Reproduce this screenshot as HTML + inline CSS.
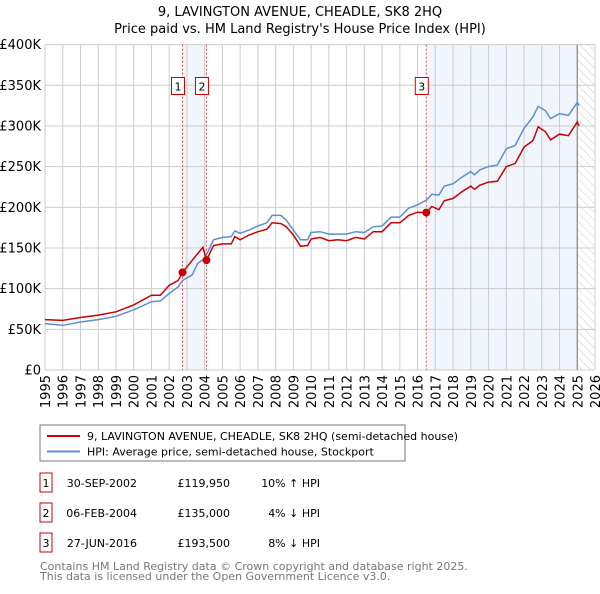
<!DOCTYPE html>
<html><head><meta charset="utf-8"><style>
body{margin:0;background:#fff;font-family:"DejaVu Sans","Liberation Sans",sans-serif;}
svg text{font-family:"DejaVu Sans","Liberation Sans",sans-serif;}
</style></head><body>
<svg id="chart" width="600" height="590" xmlns="http://www.w3.org/2000/svg">
<defs>
<pattern id="hatch" width="6" height="6" patternUnits="userSpaceOnUse" patternTransform="rotate(-45)">
<line x1="0" y1="0" x2="0" y2="6" stroke="#ccc" stroke-width="1"/></pattern>
<clipPath id="plotclip"><rect x="45" y="44" width="550" height="326"/></clipPath>
</defs>
<text x="300" y="16" text-anchor="middle" font-size="13">9, LAVINGTON AVENUE, CHEADLE, SK8 2HQ</text>
<text x="300" y="33" text-anchor="middle" font-size="13">Price paid vs. HM Land Registry's House Price Index (HPI)</text>
<g id="plot"></g>
<rect x="40" y="425" width="365" height="36" fill="#fff" stroke="#777"/>
<line x1="47" y1="436" x2="80" y2="436" stroke="#cc0000" stroke-width="2"/>
<text x="87" y="440" font-size="11">9, LAVINGTON AVENUE, CHEADLE, SK8 2HQ (semi-detached house)</text>
<line x1="47" y1="451.5" x2="80" y2="451.5" stroke="#5b8fd4" stroke-width="2"/>
<text x="87" y="455.5" font-size="11">HPI: Average price, semi-detached house, Stockport</text>
<g id="table" font-size="11"></g>
<text x="40" y="570" font-size="11" fill="#777">Contains HM Land Registry data © Crown copyright and database right 2025.</text>
<text x="40" y="580" font-size="11" fill="#777">This data is licensed under the Open Government Licence v3.0.</text>
</svg>
<script>
const hpiYears=[1995,1996,1997,1998,1999,2000,2001,2001.5,2002,2002.5,2002.75,2003.3,2003.6,2004,2004.5,2005,2005.5,2005.7,2006,2006.5,2007,2007.5,2007.8,2008.3,2008.6,2009,2009.4,2009.8,2010,2010.5,2011,2011.5,2012,2012.5,2013,2013.5,2014,2014.5,2015,2015.5,2016,2016.5,2016.8,2017.2,2017.5,2018,2018.5,2019,2019.2,2019.5,2020,2020.5,2021,2021.5,2022,2022.5,2022.8,2023.2,2023.5,2024,2024.5,2025,2025.1];
const hpiValues=[57,55,59,62,66,74,84,85,94,102,110,117,131,137,160,163,164,171,168,172,177,181,190,190,184,172,160,160,169,170,167,167,167,170,169,176,177,188,188,199,203,209,216,215,226,229,237,244,240,246,250,252,272,276,297,311,324,319,309,315,313,329,325];
const priceYears=[1995,1996,1997,1998,1999,2000,2001,2001.5,2002,2002.5,2002.75,2003.3,2003.9,2004.1,2004.5,2005,2005.5,2005.7,2006,2006.5,2007,2007.5,2007.8,2008.3,2008.6,2009,2009.4,2009.8,2010,2010.5,2011,2011.5,2012,2012.5,2013,2013.5,2014,2014.5,2015,2015.5,2016,2016.49,2016.8,2017.2,2017.5,2018,2018.5,2019,2019.2,2019.5,2020,2020.5,2021,2021.5,2022,2022.5,2022.8,2023.2,2023.5,2024,2024.5,2025,2025.1];
const priceValues=[62,61,64.5,67.5,71.5,80,92,92,104,110,119.95,135,151,135,153,155,155,164,160,166,170,173,181,180,176,166,152,153,161,163,159,160,159,163,161,170,170,181,181,190,194,193.5,201,197,208,211,219,226,222,227,231,232,250,254,274,282,299,293,283,290,288,305,300];
const saleLabels=["1","2","3"];
const saleYears=[2002.75,2004.1,2016.49];
const saleValues=[119.95,135,193.5];
const saleDates=["30-SEP-2002","06-FEB-2004","27-JUN-2016"];
const salePrices=["£119,950","£135,000","£193,500"];
const saleDiffs=["10% ↑ HPI","4% ↓ HPI","8% ↓ HPI"];
const yTicks=[0,50,100,150,200,250,300,350,400];
const yTickLabels=["£0","£50K","£100K","£150K","£200K","£250K","£300K","£350K","£400K"];
const xTicks=[1995,1996,1997,1998,1999,2000,2001,2002,2003,2004,2005,2006,2007,2008,2009,2010,2011,2012,2013,2014,2015,2016,2017,2018,2019,2020,2021,2022,2023,2024,2025,2026];
const dataEnd=2025.0;

const X0=45,X1=595,Y0=370,Y1=44.6;
const xs=y=>X0+(y-1995)/(2026-1995)*(X1-X0);
const ys=v=>Y0-v/400*(Y0-Y1);
const NS="http://www.w3.org/2000/svg";
const plot=document.getElementById('plot');
function mk(tag,attrs,parent){const e=document.createElementNS(NS,tag);for(const k in attrs)e.setAttribute(k,attrs[k]);(parent||plot).appendChild(e);return e;}

let r=mk('rect',{x:xs(saleYears[0]),y:Y1,width:xs(saleYears[1])-xs(saleYears[0]),height:Y0-Y1,fill:'#eef3fc',opacity:0.8});


r=mk('rect',{x:xs(saleYears[2]),y:Y1,width:xs(dataEnd)-xs(saleYears[2]),height:Y0-Y1,fill:'#eef3fc',opacity:0.8});


r=mk('rect',{x:xs(dataEnd),y:Y1,width:X1-xs(dataEnd),height:Y0-Y1,fill:'url(#hatch)'});



yTicks.forEach((t,i)=>{
  const l=mk('line',{x1:X0,x2:X1,y1:ys(t),y2:ys(t),stroke:'#ccc','stroke-width':1});
  
  
  const tx=mk('text',{x:X0-4,y:ys(t)+4.5,'text-anchor':'end','font-size':13});
  tx.textContent=yTickLabels[i];
  
  
});
xTicks.forEach(t=>{
  const l=mk('line',{x1:xs(t),x2:xs(t),y1:Y1,y2:Y0,stroke:'#ccc','stroke-width':1});
  
  
  const tx=mk('text',{x:0,y:0,'text-anchor':'end','font-size':13,transform:`translate(${xs(t)+5},${Y0+5}) rotate(-90)`});
  tx.textContent=t;
  
  
});
let dl=mk('line',{x1:xs(dataEnd),x2:xs(dataEnd),y1:Y1,y2:Y0,stroke:'#888','stroke-width':1.2});



saleYears.forEach((y,i)=>{
  const l=mk('line',{x1:xs(y),x2:xs(y),y1:Y1,y2:Y0,stroke:'#e05050','stroke-width':1,'stroke-dasharray':'2,2'});
  
  
  const b=mk('rect',{x:xs(y)-11,y:77.5,width:13,height:17,fill:'#fff',stroke:'#cc0000','stroke-width':1});
  
  
  const t=mk('text',{x:xs(y)-4.5,y:90.5,'text-anchor':'middle','font-size':11});
  t.textContent=saleLabels[i];
  
  
});

function path(xa,va){return xa.map((x,i)=>(i?'L':'M')+xs(x).toFixed(1)+','+ys(va[i]).toFixed(1)).join('');}
const g=mk('g',{'clip-path':'url(#plotclip)'});
let p=mk('path',{d:path(hpiYears,hpiValues),fill:'none',stroke:'#5b8fd4','stroke-width':1.5},g);


p=mk('path',{d:path(priceYears,priceValues),fill:'none',stroke:'#cc0000','stroke-width':1.5},g);


saleYears.forEach((y,i)=>{
  const c=mk('circle',{cx:xs(y),cy:ys(saleValues[i]),r:4,fill:'#cc0000'});
  
  
});

const tb=document.getElementById('table');
saleLabels.forEach((s,i)=>{
  const y=483+i*30;
  const b=mk('rect',{x:40,y:y-10,width:12,height:19,fill:'#fff',stroke:'#cc0000'},tb);
  
  
  const cells=[[46,s,'middle'],[137,saleDates[i],'end'],[230,salePrices[i],'end'],[320,saleDiffs[i],'end']];
  const names=['table-label','table-date','table-price','table-hpi-diff'];
  cells.forEach((c,j)=>{
    const t=mk('text',{x:c[0],y:y+4,'text-anchor':c[2]},tb);
    t.textContent=c[1];
    
    
  });
});
</script>
</body></html>
